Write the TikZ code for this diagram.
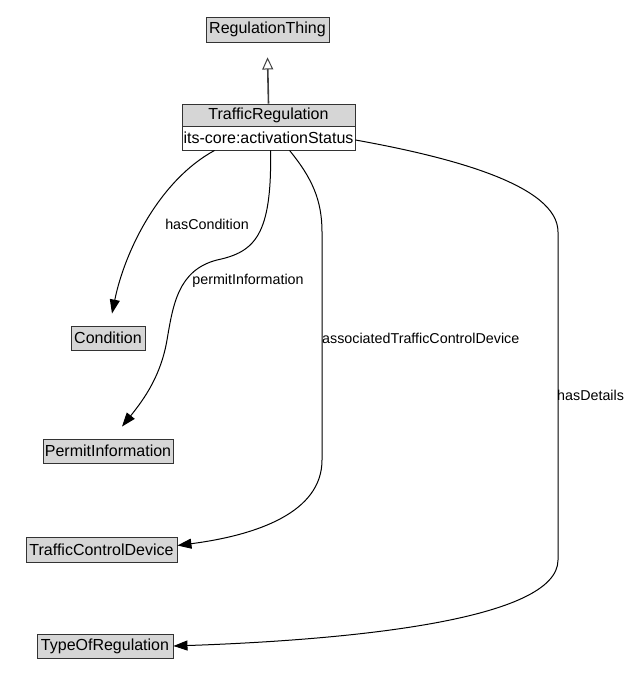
\documentclass[tikz,border=0pt]{standalone}
\usepackage{fontspec}
\setmainfont{Liberation Sans}
\usetikzlibrary{arrows.meta,calc}
\begin{document}
\begin{tikzpicture}[x=1bp,y=-1bp,
  cls/.style={draw=black!80, fill=black!16, line width=0.9bp, inner sep=0pt,
    minimum height=24bp, font=\fontsize{16bp}{19bp}\selectfont},
  attr/.style={draw=black!80, fill=white, line width=0.9bp, inner sep=0pt,
    minimum height=24bp, font=\fontsize{16bp}{19bp}\selectfont},
  lbl/.style={inner sep=0pt, font=\fontsize{14.3bp}{17bp}\selectfont},
  rel/.style={draw=black, line width=1bp, -{Triangle[length=14bp,width=10bp]}},
  isa/.style={draw=black!75, line width=1.6bp, -{Triangle[open,length=12bp,width=11bp,line width=1bp]}}
]
\useasboundingbox (0,0) rectangle (631,697);
\fill[white] (0,0) rectangle (631,697);

\node[cls, minimum width=123bp, minimum height=25bp] (rt) at (267.5,29.5) {RegulationThing};
\node[cls, minimum width=173bp, minimum height=22bp] (trh) at (268.5,115) {TrafficRegulation};
\node[attr, minimum width=173bp, minimum height=24bp] (tra) at (268.5,138) {its-core:activationStatus};
\node[cls, minimum width=74bp] (cond) at (108,338) {Condition};
\node[cls, minimum width=130bp] (perm) at (108,451) {PermitInformation};
\node[cls, minimum width=151bp, minimum height=25bp] (tcd) at (101.5,549.5) {TrafficControlDevice};
\node[cls, minimum width=136bp] (tor) at (105,646) {TypeOfRegulation};

% inheritance
\coordinate (isatip) at ($(rt.south)+(0,15)$);
\draw[isa] (trh.north) -- (isatip);

% hasCondition
\coordinate (c1) at ($(tra.south west)+(33,0)$);
\coordinate (c1e) at ($(cond.north)+(4,-12)$);
\draw[rel] (c1) .. controls (160,180) and (125,250) .. (c1e);
\node[lbl] (l1) at (207,224) {hasCondition};

% permitInformation
\coordinate (p1) at ($(tra.south west)+(89,0)$);
\coordinate (p1e) at ($(perm.north)+(14,-12)$);
\draw[rel] (p1) .. controls (272,235) and (255,252) .. (217,260)
  .. controls (178,270) and (173,305) .. (167,340)
  .. controls (161,375) and (145,398) .. (p1e);
\node[lbl] (l2) at (248,281) {permitInformation};

% associatedTrafficControlDevice
\coordinate (a1) at ($(tra.south west)+(108,0)$);
\coordinate (a1e) at ($(tcd.east)+(0,-4)$);
\draw[rel] (a1) .. controls (312,178) and (322,200) .. (322,232)
  -- (322,460) .. controls (322,512) and (258,535) .. (a1e);
\node[lbl, anchor=west] (l3) at (322,338) {associatedTrafficControlDevice};

% hasDetails
\coordinate (d1) at ($(tra.east)+(0,2)$);
\draw[rel] (d1) .. controls (450,157) and (558,185) .. (558,232)
  -- (558,560) .. controls (558,620) and (350,640) .. (tor.east);
\node[lbl, anchor=west] (l4) at (557,395) {hasDetails};
\end{tikzpicture}
\end{document}
